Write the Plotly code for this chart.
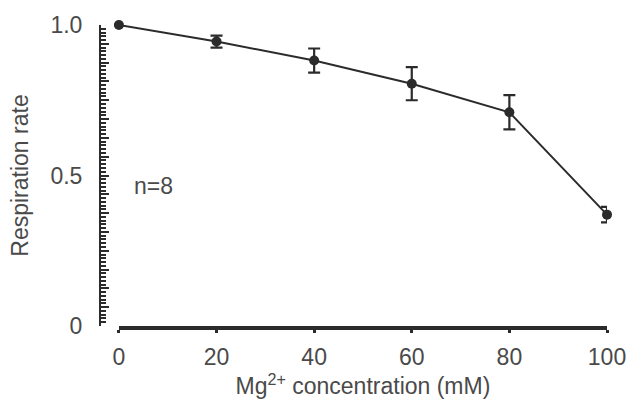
import plotly.graph_objects as go

conc = [0, 20, 40, 60, 80, 100]
rate = [1.0, 0.945, 0.882, 0.805, 0.71, 0.37]
err = [0.0, 0.02, 0.04, 0.055, 0.057, 0.026]
x_ticks = [0, 20, 40, 60, 80, 100]
y_labels = {0.0: "0", 0.5: "0.5", 1.0: "1.0"}

ink = "#2b2b2b"
txt = "#4a4a4a"
font = "Liberation Sans, Arial, sans-serif"
fs = 23

# axis decoration: fine ticks every 1/80, longer ticks every 1/16
fine_vals = [k / 80 for k in range(81)]
fine_text = [y_labels.get(round(v, 4), " ") for v in fine_vals]
long_vals = [k / 16 for k in range(17)]

fig = go.Figure()
fig.add_trace(go.Scatter(
    x=conc, y=rate, mode="lines+markers",
    line=dict(color=ink, width=2),
    marker=dict(color=ink, size=10),
    error_y=dict(type="data", array=err, visible=True, color=ink, thickness=2.2, width=6),
    cliponaxis=False, showlegend=False,
))
fig.add_trace(go.Scatter(x=[conc[0]], y=[rate[0]], yaxis="y2", mode="markers",
                         marker=dict(opacity=0), hoverinfo="skip", showlegend=False))

fig.add_annotation(x=7, y=0.465, text="n=8", showarrow=False,
                   font=dict(size=fs, color=txt, family=font), xref="x", yref="y")

fig.update_layout(
    width=638, height=412,
    margin=dict(l=100, r=29, t=19, b=86),
    plot_bgcolor="white", paper_bgcolor="white",
    font=dict(family=font, color=txt, size=fs),
    xaxis=dict(
        domain=[0.0373, 1], range=[0, 100],
        tickvals=x_ticks, ticktext=[str(v) for v in x_ticks],
        showline=True, linecolor=ink, linewidth=4,
        ticks="outside", ticklen=3, tickwidth=3, tickcolor=ink,
        showgrid=False, zeroline=False,
        tickfont=dict(size=fs, color=txt),
        ticklabelstandoff=4,
        title=dict(text="Mg<sup>2+</sup> concentration (mM)", font=dict(size=fs, color=txt), standoff=6),
    ),
    yaxis=dict(
        range=[0, 1], anchor="free", position=0,
        tickmode="array", tickvals=fine_vals, ticktext=fine_text,
        showline=True, linecolor=ink, linewidth=2,
        ticks="inside", ticklen=5, tickwidth=1.5, tickcolor=ink,
        showgrid=False, zeroline=False,
        tickfont=dict(size=fs, color=txt),
        ticklabelstandoff=12,
        title=dict(text="Respiration rate", font=dict(size=fs, color=txt), standoff=14),
    ),
    yaxis2=dict(
        range=[0, 1], anchor="free", position=0, overlaying="y", side="left",
        tickmode="array", tickvals=long_vals,
        showline=False, showticklabels=False,
        ticks="inside", ticklen=8, tickwidth=1.8, tickcolor=ink,
        showgrid=False, zeroline=False,
    ),
)

fig.write_html("out.html")
